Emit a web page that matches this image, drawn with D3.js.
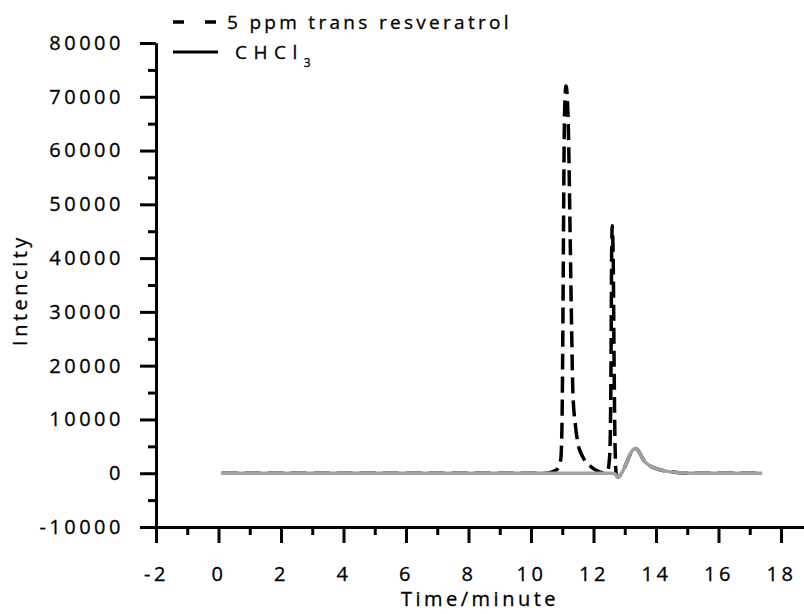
<!DOCTYPE html>
<html>
<head>
<meta charset="utf-8">
<script src="https://cdn.jsdelivr.net/npm/d3@7"></script>
<style>
  body { margin: 0; background: #fff; }
  text { font-family: "Open Sans", sans-serif; fill: #000; stroke: #000; stroke-width: 0.3px; }
</style>
</head>
<body>
<div id="chart-area"></div>
<script>
// resveratrol sample (dashed)
const resTime = [0.1, 10.5, 10.7, 10.85, 10.95, 10.99, 11.02, 11.04, 11.06, 11.09, 11.12, 11.16, 11.2, 11.25, 11.3, 11.34,
    11.42, 11.5, 11.66, 11.9, 12.1, 12.3, 12.45, 12.5, 12.53, 12.56, 12.58, 12.6, 12.63, 12.66, 12.69, 12.73,
    12.78, 12.85, 12.95, 13.05, 13.15, 13.25, 13.33, 13.42, 13.52, 13.62, 13.75, 13.9, 14.1, 14.4, 14.8, 15.2, 17.4];
const resValue = [0, 0, 300, 800, 2500, 8500, 27000, 45000, 61000, 70000, 72000, 70000, 63000, 45000, 27000, 15000,
    9000, 5600, 3000, 1300, 500, 100, 300, 2000, 5000, 20000, 40000, 46000, 40000, 20000, 5000, -300,
    -700, -400, 500, 1800, 3200, 4300, 4600, 4300, 3300, 2300, 1600, 1100, 700, 300, 80, 0, 0];

// CHCl3 blank (solid, grey)
const blankTime = [0.1, 10.5, 12.6, 12.7, 12.78, 12.85, 12.95, 13.05, 13.15, 13.25, 13.33, 13.42, 13.52, 13.62, 13.75,
    13.9, 14.1, 14.4, 14.8, 15.2, 17.4];
const blankValue = [0, 0, 0, -200, -700, -400, 500, 1800, 3200, 4300, 4600, 4300, 3300, 2300, 1600,
    1100, 700, 300, 80, 0, 0];

const xMajor = [-2, 0, 2, 4, 6, 8, 10, 12, 14, 16, 18];
const xMinor = [-1, 1, 3, 5, 7, 9, 11, 13, 15, 17];
const yMajor = [-10000, 0, 10000, 20000, 30000, 40000, 50000, 60000, 70000, 80000];
const yMinor = [-5000, 5000, 15000, 25000, 35000, 45000, 55000, 65000, 75000];

const W = 804, H = 614;
const plot = {left: 156, right: 804, top: 43, bottom: 527};

const svg = d3.select('#chart-area')
    .append('svg')
    .attr('width', W)
    .attr('height', H);

const x = d3.scaleLinear().domain([-2, 18.736]).range([plot.left, plot.right]);
const y = d3.scaleLinear().domain([-10000, 80000]).range([plot.bottom, plot.top]);

const fmt = d => String(d); // plain hyphen, no thousands separator

// axes
svg.append('g')
    .attr('transform', `translate(0, ${plot.bottom})`)
    .call(d3.axisBottom(x).tickValues(xMajor).tickSize(16).tickSizeOuter(0).tickPadding(24).tickFormat(fmt));
svg.append('g')
    .attr('transform', `translate(0, ${plot.bottom})`)
    .call(d3.axisBottom(x).tickValues(xMinor).tickSize(8).tickSizeOuter(0).tickFormat(''));

svg.append('g')
    .attr('transform', `translate(${plot.left}, 0)`)
    .call(d3.axisLeft(y).tickValues(yMajor).tickSize(16).tickSizeOuter(0).tickPadding(16).tickFormat(fmt));
svg.append('g')
    .attr('transform', `translate(${plot.left}, 0)`)
    .call(d3.axisLeft(y).tickValues(yMinor).tickSize(8).tickSizeOuter(0).tickFormat(''));

svg.selectAll('.domain').attr('stroke', '#000').attr('stroke-width', 3);
svg.selectAll('.tick line').attr('stroke', '#000').attr('stroke-width', 3);
svg.selectAll('.tick text')
    .attr('font-size', '20px')
    .attr('font-family', '"Open Sans", sans-serif')
    .attr('fill', '#000')
    .style('letter-spacing', '3.5px');

// lines
const line = d3.line()
    .x(d => x(d[0]))
    .y(d => y(d[1]))
    .curve(d3.curveMonotoneX);

svg.append('path')
    .datum(resTime.map((t, i) => [t, resValue[i]]))
    .attr('fill', 'none')
    .attr('stroke', '#000')
    .attr('stroke-width', 3.5)
    .attr('stroke-dasharray', '16,7')
    .attr('d', line);

svg.append('path')
    .datum(blankTime.map((t, i) => [t, blankValue[i]]))
    .attr('fill', 'none')
    .attr('stroke', '#a0a0a0')
    .attr('stroke-width', 3.5)
    .attr('d', line);

// axis titles
svg.append('text')
    .attr('x', 480)
    .attr('y', 606)
    .attr('text-anchor', 'middle')
    .attr('font-size', '20px')
    .style('letter-spacing', '3.5px')
    .text('Time/minute');

svg.append('text')
    .attr('transform', 'translate(27, 290) rotate(-90)')
    .attr('text-anchor', 'middle')
    .attr('font-size', '20px')
    .style('letter-spacing', '3.5px')
    .text('Intencity');

// legend
svg.append('line')
    .attr('x1', 173).attr('x2', 218).attr('y1', 22).attr('y2', 22)
    .attr('stroke', '#000').attr('stroke-width', 3.5)
    .attr('stroke-dasharray', '11,21');
svg.append('text')
    .attr('x', 227).attr('y', 29)
    .attr('font-size', '19px')
    .style('letter-spacing', '3.3px')
    .text('5 ppm trans resveratrol');

svg.append('line')
    .attr('x1', 173).attr('x2', 218).attr('y1', 52).attr('y2', 52)
    .attr('stroke', '#000').attr('stroke-width', 3);
const chcl = svg.append('text')
    .attr('x', 235).attr('y', 59)
    .attr('font-size', '19px')
    .style('letter-spacing', '6.5px');
chcl.append('tspan').text('CHCl');
chcl.append('tspan').attr('font-size', '12px').attr('dy', 8).text('3');
</script>
</body>
</html>
